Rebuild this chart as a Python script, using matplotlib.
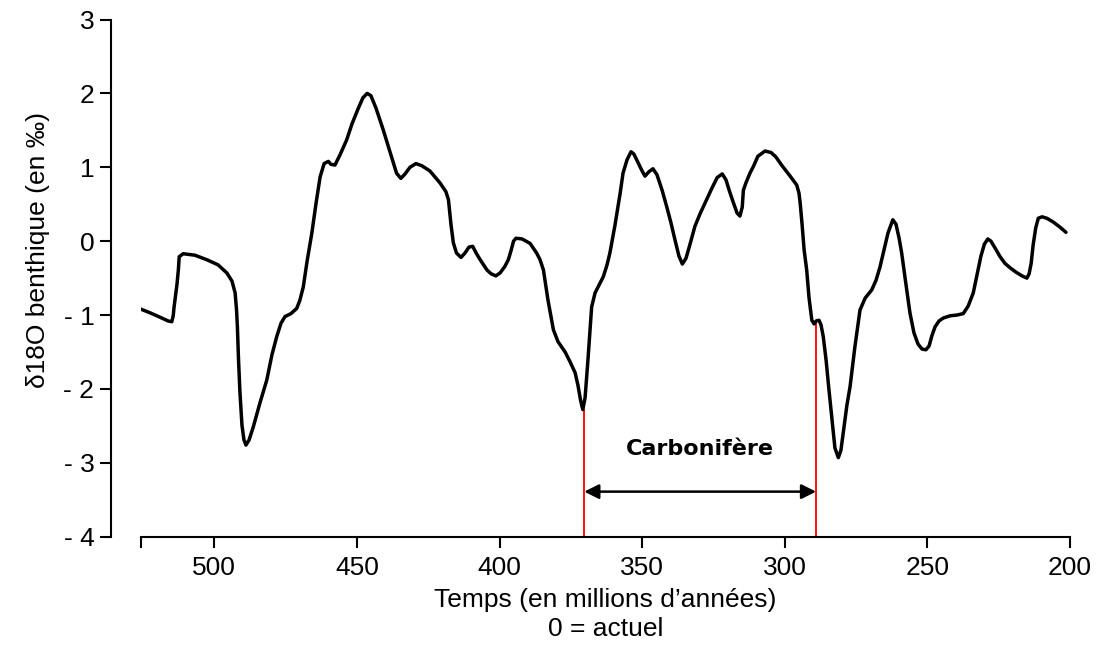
import numpy as np
import matplotlib.pyplot as plt
from matplotlib.ticker import FixedLocator

# time (Ma) and benthic d18O (permil)
age = [526.4, 522.5, 519.0, 516.2, 514.9, 514.4, 514.1, 513.1, 512.6, 512.3,
       510.9, 506.8, 502.7, 498.7, 495.6, 493.8, 492.7, 492.2, 491.9, 491.5,
       491.0, 490.3, 489.6, 488.9, 487.8, 486.3, 484.0, 481.6, 479.8, 478.1,
       476.6, 475.2, 473.1, 471.1, 470.0, 468.8, 467.5, 465.8, 464.3, 462.9,
       461.5, 460.0, 459.1, 457.7, 455.9, 453.6, 451.7, 449.6, 447.9, 446.4,
       445.1, 443.3, 440.8, 438.4, 436.1, 434.6, 433.1, 431.4, 429.3, 427.2,
       424.4, 420.9, 418.8, 417.9, 417.0, 416.2, 415.1, 413.5, 412.1, 410.7,
       409.4, 408.2, 406.8, 404.4, 403.0, 401.3, 399.8, 398.1, 396.9, 395.9,
       395.1, 394.2, 392.1, 389.3, 387.0, 385.8, 384.6, 383.0, 381.1, 379.5,
       377.0, 375.3, 373.5, 372.5, 371.6, 370.8, 370.0, 369.0, 367.7, 366.5,
       364.8, 363.6, 362.3, 361.3, 359.5, 357.7, 356.7, 355.3, 353.9, 352.9,
       351.4, 350.0, 349.0, 347.6, 346.2, 344.8, 343.0, 341.4, 339.9, 338.5,
       337.1, 335.9, 334.6, 333.2, 331.5, 329.7, 327.4, 325.5, 323.7, 321.9,
       320.6, 319.4, 318.0, 316.7, 315.7, 314.9, 314.5, 313.6, 312.2, 311.0,
       309.4, 306.9, 304.8, 303.1, 301.1, 298.1, 295.8, 295.0, 294.6, 293.9,
       293.2, 292.3, 291.5, 290.5, 289.7, 289.0, 288.0, 287.3, 286.5, 285.5,
       284.5, 283.4, 282.4, 281.2, 280.3, 279.5, 278.2, 277.1, 275.4, 273.6,
       271.8, 269.5, 268.0, 266.6, 265.2, 263.8, 262.1, 261.0, 259.9, 259.0,
       257.8, 256.1, 254.7, 253.3, 251.9, 250.5, 249.4, 248.4, 247.3, 245.9,
       244.4, 242.0, 239.6, 237.4, 235.7, 233.9, 232.6, 231.2, 230.0, 228.8,
       227.7, 226.3, 224.5, 222.8, 221.0, 218.9, 216.8, 215.1, 214.3, 213.6,
       212.9, 212.0, 211.1, 209.8, 208.1, 205.9, 203.5, 201.4]
d18o = [-0.91, -0.97, -1.03, -1.08, -1.09, -1.01, -0.89, -0.59, -0.39, -0.21,
        -0.17, -0.19, -0.25, -0.32, -0.43, -0.54, -0.70, -0.93, -1.16, -1.61,
        -2.05, -2.49, -2.69, -2.76, -2.69, -2.51, -2.19, -1.88, -1.54, -1.29,
        -1.11, -1.02, -0.98, -0.91, -0.80, -0.62, -0.28, 0.11, 0.52, 0.87,
        1.05, 1.08, 1.04, 1.03, 1.17, 1.37, 1.59, 1.79, 1.94, 2.00,
        1.97, 1.80, 1.51, 1.21, 0.92, 0.85, 0.91, 1.00, 1.05, 1.02,
        0.95, 0.79, 0.67, 0.56, 0.22, -0.02, -0.16, -0.22, -0.16, -0.08,
        -0.07, -0.16, -0.25, -0.39, -0.44, -0.47, -0.43, -0.34, -0.25, -0.12,
        0.00, 0.04, 0.03, -0.03, -0.16, -0.25, -0.39, -0.80, -1.20, -1.36,
        -1.50, -1.63, -1.78, -1.95, -2.15, -2.28, -2.12, -1.61, -0.89, -0.70,
        -0.57, -0.48, -0.32, -0.16, 0.22, 0.65, 0.92, 1.10, 1.21, 1.18,
        1.06, 0.95, 0.88, 0.94, 0.98, 0.90, 0.69, 0.47, 0.25, 0.02,
        -0.20, -0.31, -0.23, -0.04, 0.20, 0.37, 0.56, 0.72, 0.86, 0.91,
        0.83, 0.68, 0.52, 0.38, 0.34, 0.46, 0.69, 0.79, 0.92, 1.01,
        1.15, 1.22, 1.20, 1.14, 1.03, 0.88, 0.76, 0.65, 0.52, 0.22,
        -0.12, -0.39, -0.76, -1.07, -1.12, -1.08, -1.07, -1.13, -1.29, -1.61,
        -2.01, -2.42, -2.80, -2.93, -2.83, -2.60, -2.22, -1.97, -1.43, -0.93,
        -0.77, -0.66, -0.53, -0.35, -0.12, 0.11, 0.29, 0.23, 0.04, -0.16,
        -0.50, -0.97, -1.24, -1.39, -1.46, -1.47, -1.42, -1.28, -1.16, -1.08,
        -1.04, -1.01, -1.00, -0.98, -0.88, -0.70, -0.46, -0.20, -0.04, 0.03,
        0.00, -0.09, -0.21, -0.30, -0.36, -0.42, -0.47, -0.50, -0.44, -0.30,
        -0.05, 0.18, 0.31, 0.33, 0.31, 0.26, 0.19, 0.12]

xticks = [500, 450, 400, 350, 300, 250, 200]
yticks = [-4, -3, -2, -1, 0, 1, 2, 3]
ytick_labels = ['- 4', '- 3', '- 2', '- 1', '0', '1', '2', '3']

carb_start = 370.3
carb_end = 289.0
carb_top = [-2.28, -1.08]   # where the red markers meet the curve
arrow_y = -3.39

plt.rcParams['font.family'] = ['Liberation Sans', 'DejaVu Sans']

fig = plt.figure(figsize=(11.01, 6.57), dpi=100)
ax = fig.add_axes([0.1278, 0.1831, 0.8440, 0.7872])

ax.plot(age, d18o, color='black', lw=2.5, solid_joinstyle='round',
        solid_capstyle='round', zorder=3)

# Carboniferous markers
ax.plot([carb_start, carb_start], [-4, carb_top[0]], color='red', lw=1.3, zorder=2)
ax.plot([carb_end, carb_end], [-4, carb_top[1]], color='red', lw=1.3, zorder=2)
ax.annotate('', xy=(carb_end, arrow_y), xytext=(carb_start, arrow_y),
            arrowprops=dict(arrowstyle='<|-|>', color='black', lw=1.8,
                            mutation_scale=22, shrinkA=0, shrinkB=0))
ax.text((carb_start + carb_end) / 2, -2.81, 'Carbonifère', ha='center', va='center',
        fontsize=16, fontweight='bold', family='DejaVu Sans')

ax.set_xlim(525.8, 200)
ax.set_ylim(-4, 3)
ax.xaxis.set_major_locator(FixedLocator([525.8] + xticks))
ax.set_xticklabels([''] + [str(t) for t in xticks])
ax.set_yticks(yticks)
ax.set_yticklabels(ytick_labels)

for s in ['top', 'right']:
    ax.spines[s].set_visible(False)
ax.spines['left'].set_position(('outward', 21.4))
ax.spines['left'].set_linewidth(1.5)
ax.spines['bottom'].set_linewidth(1.5)
ax.tick_params(direction='out', length=8, width=1.5, labelsize=19)
ax.tick_params(axis='x', pad=6)
ax.tick_params(axis='y', pad=4)

ax.set_xlabel('Temps (en millions d\u2019années)\n0 = actuel', fontsize=19,
              linespacing=1.25, labelpad=6)
fig.text(38 / 1101, 1 - 250 / 657, 'δ18O benthique (en ‰)', rotation=90,
         ha='center', va='center', fontsize=19)

fig.savefig('out.png', dpi=100)
